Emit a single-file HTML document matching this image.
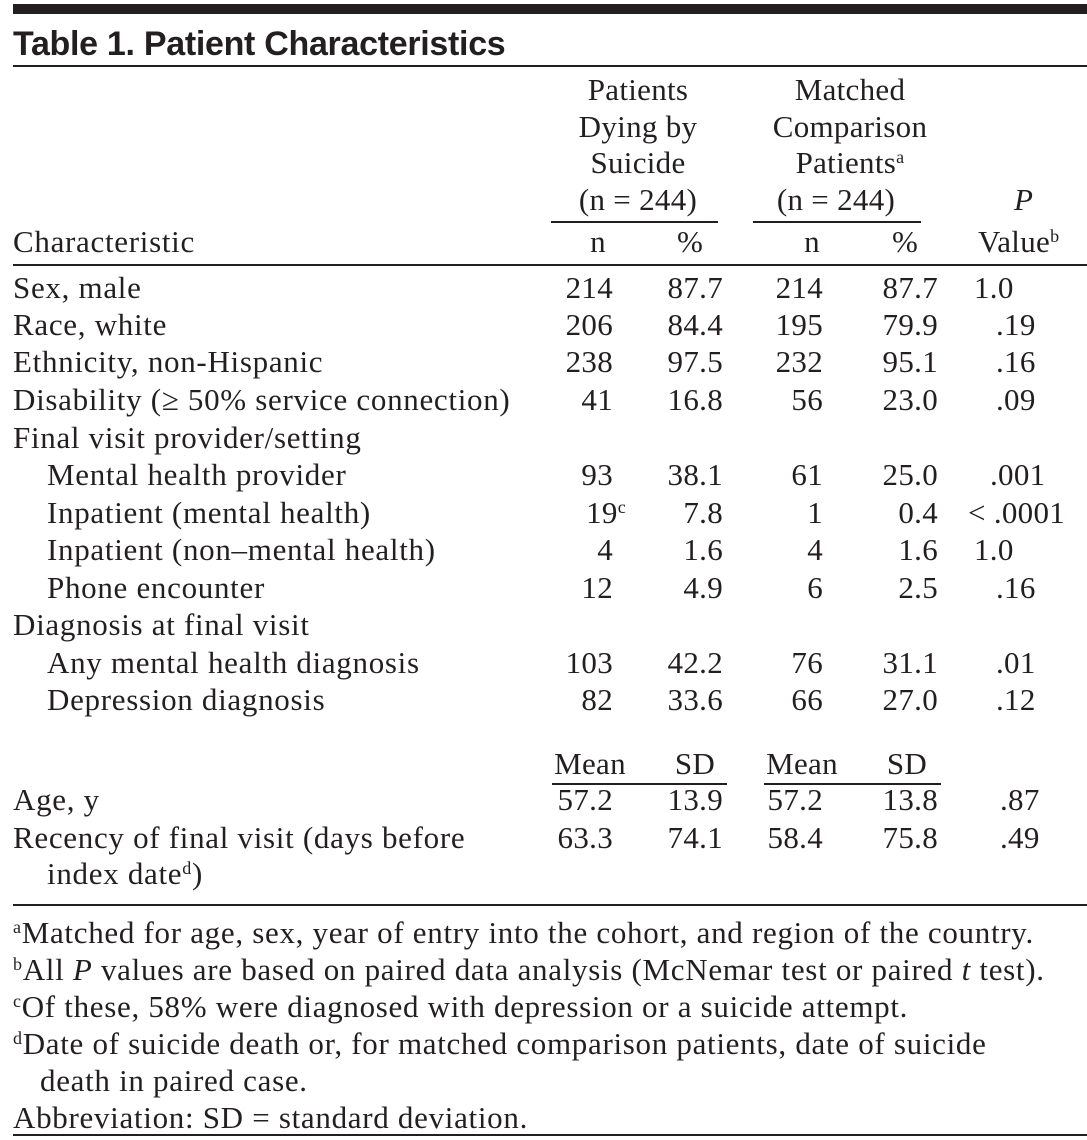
<!DOCTYPE html>
<html><head><meta charset="utf-8"><style>
body{margin:0;width:1087px;height:1140px;background:#fff;position:relative;overflow:hidden;font-family:"Liberation Serif",serif;color:#231f20}
.t{position:absolute;font-size:31px;letter-spacing:0.3px;line-height:36px;height:36px;white-space:nowrap}
.w{letter-spacing:0.7px}
.r{text-align:right}
.c{text-align:center}
.rule{position:absolute;background:#231f20}
sup{font-size:18px;line-height:0;vertical-align:10px}
</style></head><body>
<div class="rule" style="left:13px;top:4px;width:1074px;height:10px"></div>
<div class="t" style="left:13px;top:26px;font-family:'Liberation Sans',sans-serif;font-weight:bold;font-size:34px;letter-spacing:-0.3px">Table 1. Patient Characteristics</div>
<div class="rule" style="left:13px;top:65px;width:1074px;height:2px"></div>

<div>
<div class="t c" style="left:538px;width:200px;top:72px">Patients</div>
<div class="t c" style="left:538px;width:200px;top:109px">Dying by</div>
<div class="t c" style="left:538px;width:200px;top:145px">Suicide</div>
<div class="t c" style="left:538px;width:200px;top:182px">(n = 244)</div>
</div>
<div>
<div class="t c" style="left:750px;width:200px;top:72px">Matched</div>
<div class="t c" style="left:750px;width:200px;top:109px">Comparison</div>
<div class="t c" style="left:750px;width:200px;top:145px">Patients<sup>a</sup></div>
<div class="t c" style="left:736px;width:200px;top:182px">(n = 244)</div>
</div>
<div class="rule" style="left:551px;top:221px;width:167px;height:2px"></div>
<div class="rule" style="left:753px;top:221px;width:168px;height:2px"></div>
<div class="t" style="left:1014px;top:182px;font-style:italic">P</div>
<div class="t" style="left:978px;top:224px">Value<sup>b</sup></div>
<div class="t w" style="left:13px;top:224px">Characteristic</div>
<div class="t c" style="left:568px;width:60px;top:224px">n</div>
<div class="t c" style="left:660px;width:60px;top:224px">%</div>
<div class="t c" style="left:782px;width:60px;top:224px">n</div>
<div class="t c" style="left:875px;width:60px;top:224px">%</div>
<div class="rule" style="left:13px;top:264px;width:1074px;height:2px"></div>

<div id="rows"></div>

<div class="t c" style="left:548px;width:84px;top:746px">Mean</div>
<div class="t c" style="left:660px;width:70px;top:746px">SD</div>
<div class="t c" style="left:760px;width:84px;top:746px">Mean</div>
<div class="t c" style="left:872px;width:70px;top:746px">SD</div>
<div class="rule" style="left:552px;top:783px;width:175px;height:2px"></div>
<div class="rule" style="left:764px;top:783px;width:177px;height:2px"></div>

<div class="rule" style="left:13px;top:904px;width:1074px;height:2px"></div>
<div>
<div class="t w" style="left:13px;top:915px"><sup>a</sup>Matched for age, sex, year of entry into the cohort, and region of the country.</div>
<div class="t w" style="left:13px;top:952px"><sup>b</sup>All <i>P</i> values are based on paired data analysis (McNemar test or paired <i>t</i> test).</div>
<div class="t w" style="left:13px;top:989px"><sup>c</sup>Of these, 58% were diagnosed with depression or a suicide attempt.</div>
<div class="t w" style="left:13px;top:1026px"><sup>d</sup>Date of suicide death or, for matched comparison patients, date of suicide</div>
<div class="t w" style="left:40px;top:1063px">death in paired case.</div>
<div class="t w" style="left:13px;top:1100px">Abbreviation: SD = standard deviation.</div>
</div>
<div class="rule" style="left:13px;top:1134px;width:1074px;height:2px"></div>

<script>
const labels=["Sex, male","Race, white","Ethnicity, non-Hispanic","Disability (≥ 50% service connection)","Final visit provider/setting","Mental health provider","Inpatient (mental health)","Inpatient (non–mental health)","Phone encounter","Diagnosis at final visit","Any mental health diagnosis","Depression diagnosis","Age, y","Recency of final visit (days before"];
const indents=[0,0,0,0,0,1,1,1,1,0,1,1,0,0];
const col1=["214","206","238","41","","93","19<sup>c</sup>","4","12","","103","82","57.2","63.3"];
const col2=["87.7","84.4","97.5","16.8","","38.1","7.8","1.6","4.9","","42.2","33.6","13.9","74.1"];
const col3=["214","195","232","56","","61","1","4","6","","76","66","57.2","58.4"];
const col4=["87.7","79.9","95.1","23.0","","25.0","0.4","1.6","2.5","","31.1","27.0","13.8","75.8"];
const pvals=["1.0",".19",".16",".09","",".001","< .0001","1.0",".16","",".01",".12",".87",".49"];
const rowTop=[270,307,344,382,420,457,495,532,570,607,645,682,782,820];
const root=document.getElementById('rows');
function cell(html,left,top,right,wide){
  const d=document.createElement('div');
  d.className='t'+(right?' r':'')+(wide?' w':'');
  if(right){d.style.left=(left-120)+'px';d.style.width='120px';}else d.style.left=left+'px';
  d.style.top=top+'px';d.innerHTML=html;root.appendChild(d);return d;
}
labels.forEach((l,i)=>{
  const y=rowTop[i];
  const row=document.createElement('div');
  
  
  root.appendChild(row);
  cell(l,indents[i]?47:13,y,false,true);
  if(col1[i]){
    const sup=col1[i].includes('<sup>');
    cell(col1[i],sup?626:613,y,true);
    cell(col2[i],723,y,true);
    cell(col3[i],823,y,true);
    cell(col4[i],938,y,true);
    const p=pvals[i];
    let x=p.startsWith('<')?968:(p.startsWith('.')?(p.length>3?990:996):974);
    if(i>=12)x=1000;
    cell(p,x,y,false);
  }
});
cell('index date<sup>d</sup>)',47,856,false,true);
</script>
</body></html>
